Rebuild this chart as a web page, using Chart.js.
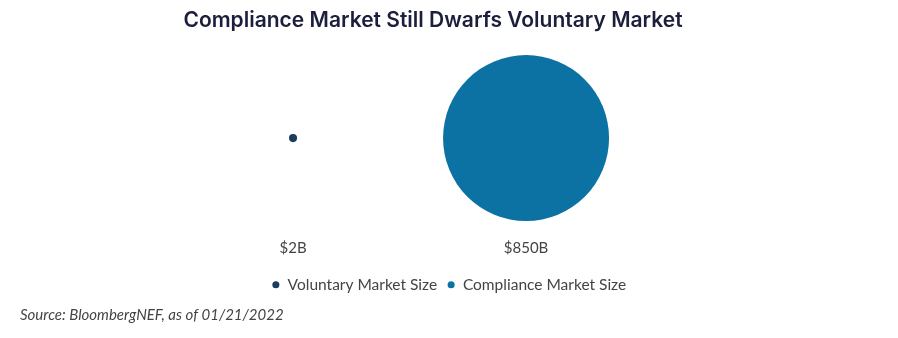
<!DOCTYPE html>
<html>
<head>
<meta charset="utf-8">
<script src="https://cdn.jsdelivr.net/npm/chart.js@4.4.1/dist/chart.umd.min.js"></script>
<style>
  html, body { margin: 0; padding: 0; background: #ffffff; }
  #wrap { width: 898px; height: 338px; }
</style>
</head>
<body>
<div id="wrap"><canvas id="c"></canvas></div>
<script>
// ---- data ----
const seriesNames = ["Voluntary Market Size", "Compliance Market Size"];
const marketSizeBillions = [2, 850];
const tickLabels = ["$2B", "$850B"];
const seriesColors = ["#183d5e", "#0b72a3"];

// bubble area proportional to value
const RADIUS_PER_SQRT = 83 / Math.sqrt(850);

const datasets = seriesNames.map((name, i) => ({
  label: name,
  data: [{ x: i + 1, y: 0, r: RADIUS_PER_SQRT * Math.sqrt(marketSizeBillions[i]) }],
  backgroundColor: seriesColors[i],
  borderColor: seriesColors[i],
  borderWidth: 0,
  hoverRadius: 0,
  clip: false
}));

const textFont = "Lato, 'Open Sans', sans-serif";

new Chart(document.getElementById('c'), {
  type: 'bubble',
  data: { datasets },
  options: {
    responsive: true,
    maintainAspectRatio: false,
    animation: false,
    events: [],
    layout: { autoPadding: false, padding: 0 },
    scales: {
      x: {
        type: 'linear',
        min: -0.1717,
        max: 3.373,
        grid: { display: false, drawTicks: false },
        border: { display: false },
        afterBuildTicks: (s) => { s.ticks = tickLabels.map((_, i) => ({ value: i + 1 })); },
        ticks: {
          padding: 11.5,
          color: '#444444',
          font: { family: textFont, size: 15, lineHeight: 1.0 },
          callback: (v, i) => tickLabels[i]
        }
      },
      y: {
        position: 'left',
        min: -1,
        max: 1,
        grid: { display: false, drawTicks: false },
        border: { display: false },
        ticks: { display: false },
        afterFit: (s) => { s.width = 20; }
      },
      yRight: {
        type: 'linear',
        position: 'right',
        grid: { display: false, drawTicks: false },
        border: { display: false },
        ticks: { display: false },
        afterFit: (s) => { s.width = 52; }
      }
    },
    plugins: {
      tooltip: { enabled: false },
      title: {
        display: true,
        fullSize: false,
        text: 'Compliance Market Still Dwarfs Voluntary Market',
        color: '#1c1f3b',
        font: { family: "Inter, sans-serif", size: 21, weight: '600' },
        padding: { top: 8, bottom: 14 }
      },
      legend: {
        display: true,
        position: 'bottom',
        fullSize: true,
        labels: {
          usePointStyle: true,
          pointStyle: 'circle',
          boxWidth: 8,
          boxHeight: 5,
          padding: 10,
          color: '#444444',
          font: { family: textFont, size: 15.5 }
        }
      },
      subtitle: {
        display: true,
        position: 'bottom',
        fullSize: false,
        align: 'start',
        text: 'Source: BloombergNEF, as of 01/21/2022',
        color: '#444444',
        font: { family: textFont, size: 15, style: 'italic' },
        padding: { top: 4, bottom: 13.5 }
      }
    }
  }
});
</script>
</body>
</html>
